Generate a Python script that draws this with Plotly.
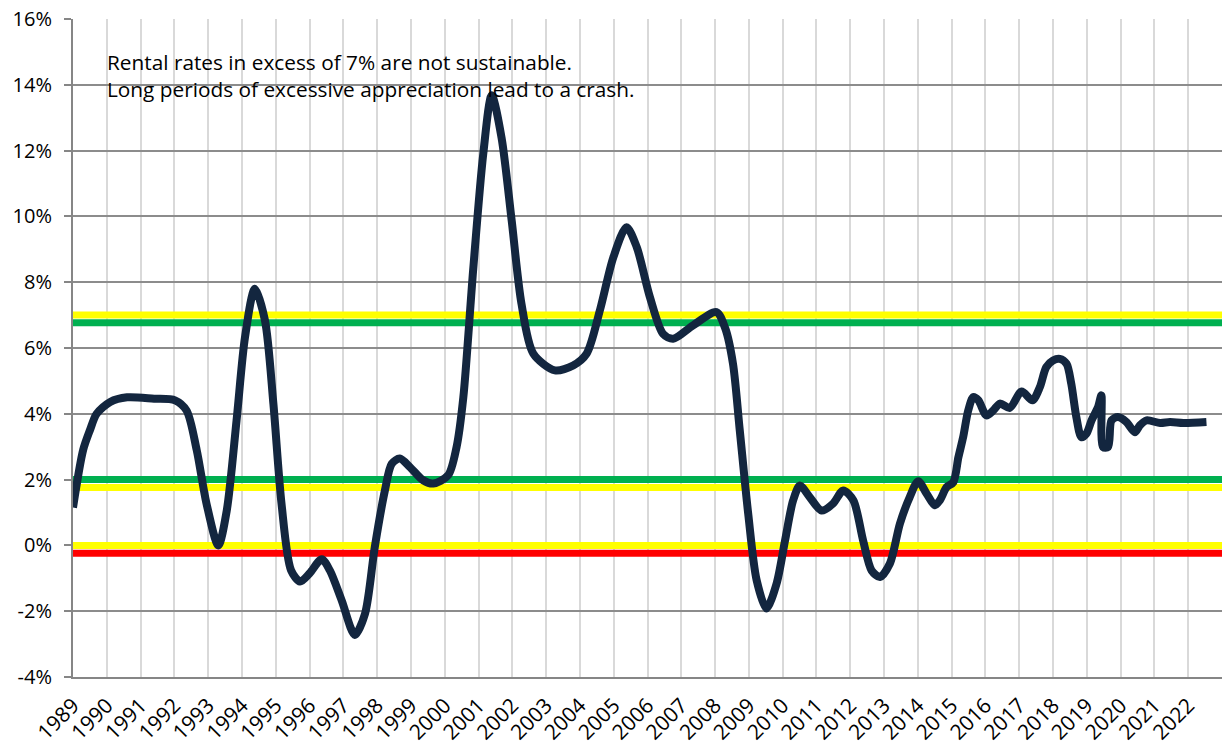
import plotly.graph_objects as go

# ---- data ----
years = [1989.00, 1989.30, 1989.50, 1989.70, 1990.10, 1990.60, 1991.40, 1992.02, 1992.36, 1992.66,
         1992.95, 1993.30, 1993.55, 1993.84, 1994.09, 1994.38, 1994.68, 1994.93, 1995.17, 1995.45,
         1995.72, 1996.00, 1996.36, 1996.60, 1996.95, 1997.34, 1997.64, 1997.93, 1998.23, 1998.43,
         1998.67, 1998.97, 1999.36, 1999.66, 2000.10, 2000.35, 2000.55, 2000.84, 2001.14, 2001.39,
         2001.68, 2001.98, 2002.27, 2002.62, 2003.26, 2003.80, 2004.20, 2004.59, 2004.99, 2005.38,
         2005.68, 2006.07, 2006.46, 2006.76, 2007.35, 2008.04, 2008.30, 2008.53, 2008.73, 2008.98,
         2009.23, 2009.52, 2009.82, 2010.07, 2010.31, 2010.51, 2010.80, 2011.15, 2011.49, 2011.79,
         2012.09, 2012.38, 2012.63, 2012.88, 2013.17, 2013.47, 2013.76, 2014.01, 2014.26, 2014.50,
         2014.65, 2014.85, 2015.05, 2015.20, 2015.34, 2015.49, 2015.64, 2015.79, 2016.03, 2016.23,
         2016.43, 2016.72, 2017.07, 2017.39, 2017.61, 2017.80, 2018.00, 2018.20, 2018.40, 2018.54,
         2018.69, 2018.84, 2018.99, 2019.14, 2019.33, 2019.43, 2019.48, 2019.63, 2019.73, 2019.92,
         2020.17, 2020.42, 2020.57, 2020.77, 2021.17, 2021.46, 2021.86, 2022.54]
rent_growth = [1.15, 2.90, 3.50, 4.00, 4.36, 4.50, 4.46, 4.41, 4.10, 2.90,
               1.27, 0.00, 1.06, 3.80, 6.33, 7.80, 6.84, 4.30, 1.27, -0.75,
               -1.10, -0.85, -0.42, -0.76, -1.67, -2.72, -2.08, -0.05, 1.67, 2.48,
               2.64, 2.38, 1.98, 1.88, 2.13, 2.99, 4.50, 8.36, 11.90, 13.68,
               12.40, 9.88, 7.35, 5.83, 5.32, 5.47, 5.83, 7.14, 8.76, 9.67,
               9.07, 7.55, 6.43, 6.28, 6.69, 7.09, 6.60, 5.52, 3.50, 0.96,
               -1.06, -1.92, -1.16, 0.15, 1.37, 1.82, 1.47, 1.06, 1.27, 1.67,
               1.37, 0.15, -0.76, -0.96, -0.56, 0.66, 1.47, 1.95, 1.57, 1.22,
               1.37, 1.77, 1.92, 2.68, 3.29, 4.10, 4.51, 4.41, 3.95, 4.10,
               4.31, 4.18, 4.68, 4.41, 4.81, 5.42, 5.62, 5.67, 5.52, 4.91,
               3.90, 3.29, 3.40, 3.80, 4.20, 4.56, 2.99, 2.99, 3.80, 3.90,
               3.75, 3.44, 3.65, 3.80, 3.72, 3.75, 3.72, 3.75]

band_x = [1989, 2023]
band_levels = [7.0, 6.77, 2.0, 1.76, 0.0, -0.24]
band_colors = ["#FFFF00", "#00B050", "#00B050", "#FFFF00", "#FFFF00", "#FF0000"]

x_tick_vals = list(range(1989, 2024))
x_tick_text = [str(y) for y in range(1989, 2023)] + [""]
y_tick_vals = [-4, -2, 0, 2, 4, 6, 8, 10, 12, 14, 16]
y_tick_text = ["-4%", "-2%", "0%", "2%", "4%", "6%", "8%", "10%", "12%", "14%", "16%"]

notes = ["Rental rates in excess of 7% are not sustainable.",
         "Long periods of excessive appreciation lead to a crash."]

FONT = "Open Sans"

fig = go.Figure()
for lvl, col in zip(band_levels, band_colors):
    fig.add_trace(go.Scatter(x=band_x, y=[lvl, lvl], mode="lines",
                             line=dict(color=col, width=7), hoverinfo="skip",
                             showlegend=False))

fig.add_trace(go.Scatter(x=years, y=rent_growth, mode="lines",
                         line=dict(color="#13263F", width=8, shape="spline", smoothing=0.8),
                         showlegend=False))

fig.add_annotation(x=0.0279, y=0.935, xref="paper", yref="paper", xanchor="left", yanchor="middle",
                   text=notes[0], showarrow=False, font=dict(family=FONT, size=20.8, color="#000000"))
fig.add_annotation(x=0.0279, y=0.893, xref="paper", yref="paper", xanchor="left", yanchor="middle",
                   text=notes[1], showarrow=False, font=dict(family=FONT, size=20.8, color="#000000"))

fig.update_layout(
    width=1225, height=748,
    margin=dict(l=73, r=3, t=19, b=71),
    paper_bgcolor="white", plot_bgcolor="white",
    font=dict(family=FONT, size=20, color="#000000"),
)
fig.update_xaxes(range=[1989, 2023], tickmode="array", tickvals=x_tick_vals, ticktext=x_tick_text,
                 tickangle=-45, tickfont=dict(size=21), showgrid=True, gridcolor="#D9D9D9", gridwidth=2,
                 showline=True, linecolor="#868686", linewidth=2, ticks="outside", ticklen=6,
                 tickcolor="rgba(0,0,0,0)", zeroline=False, automargin=False)
fig.update_yaxes(range=[-4, 16], tickmode="array", tickvals=y_tick_vals, ticktext=y_tick_text,
                 showgrid=True, gridcolor="#8C8C8C", gridwidth=1.5,
                 showline=True, linecolor="#868686", linewidth=2,
                 ticks="outside", ticklen=7, tickcolor="#868686", tickwidth=2,
                 ticklabelstandoff=8, zeroline=False, automargin=False)

fig.write_html("out.html", config={"displayModeBar": False},
               post_script="document.body.style.margin='0';document.body.style.overflow='hidden';")
